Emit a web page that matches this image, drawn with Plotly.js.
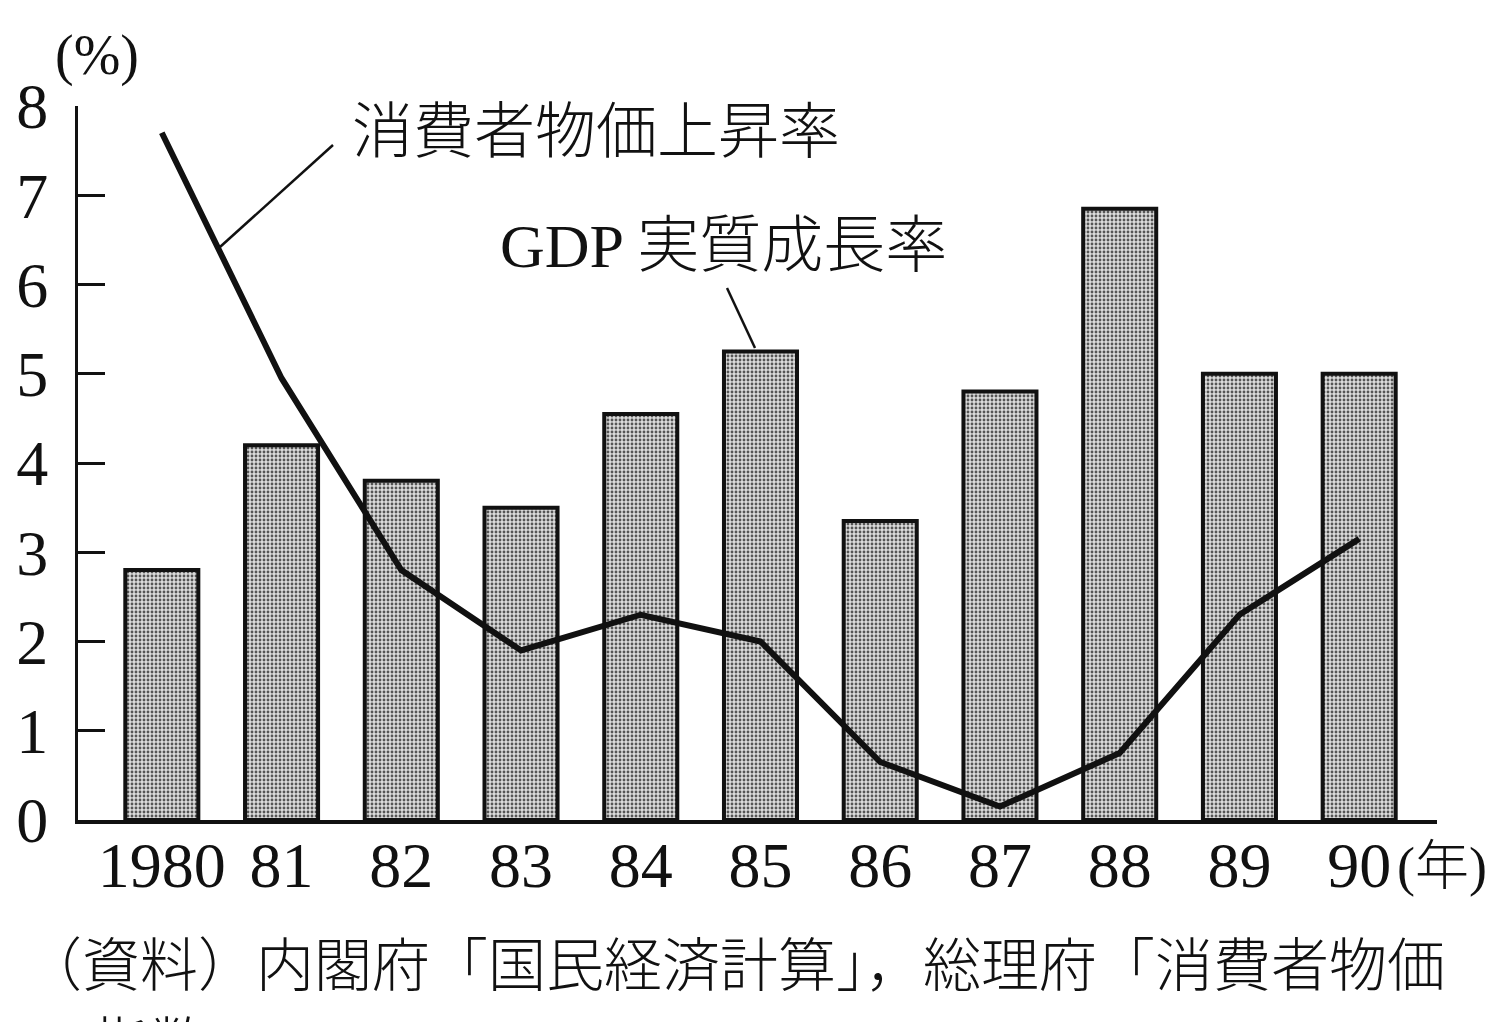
<!DOCTYPE html>
<html>
<head>
<meta charset="utf-8">
<script src="https://cdn.plot.ly/plotly-3.0.1.min.js"></script>
<style>
  html, body { margin: 0; padding: 0; background: #fff; }
  #chart_div { width: 1492px; height: 1022px; }
</style>
</head>
<body>
<div id="chart_div"></div>
<script>
// years on the x axis and their printed labels
var years = [1980, 1981, 1982, 1983, 1984, 1985, 1986, 1987, 1988, 1989, 1990];
var year_labels = ['1980', '81', '82', '83', '84', '85', '86', '87', '88', '89', '90'];

// GDP real growth rate (%), bars
var gdp_growth = [2.8, 4.2, 3.8, 3.5, 4.55, 5.25, 3.35, 4.8, 6.85, 5.0, 5.0];

// consumer price rise (%), line
var cpi_rise = [7.7, 4.95, 2.8, 1.9, 2.3, 2.0, 0.65, 0.15, 0.75, 2.3, 3.15];

var font_family = '"Liberation Serif", "Noto Sans CJK JP", serif';

// plot area in page pixels, used to place the loose texts
var plot_left = 78, plot_right = 1437, plot_top = 106, plot_bottom = 820;

function px_x(px) { return (px - plot_left) / (plot_right - plot_left); }
function px_y(py) { return (plot_bottom - py) / (plot_bottom - plot_top); }

function label(text, px, py, size, anchor) {
	return {
		xref: 'paper', yref: 'paper',
		x: px_x(px), y: px_y(py),
		xanchor: anchor || 'left', yanchor: 'middle',
		text: text, showarrow: false,
		font: { family: font_family, size: size, color: '#111', weight: 300 }
	};
}

function leader(x0, y0, x1, y1) {
	return {
		type: 'line', xref: 'paper', yref: 'paper',
		x0: px_x(x0), y0: px_y(y0), x1: px_x(x1), y1: px_y(y1),
		line: { color: '#111', width: 2.5 }
	};
}

var bars = {
	x: years,
	y: gdp_growth,
	type: 'bar',
	width: 0.61,
	name: 'GDP 実質成長率',
	marker: {
		color: '#d8d8d8',
		line: { color: '#111', width: 4 },
		pattern: { shape: '.', fgcolor: '#555', bgcolor: '#dcdcdc', size: 4, solidity: 0.4 }
	},
	hoverinfo: 'x+y'
};

var cpi_line = {
	x: years,
	y: cpi_rise,
	type: 'scatter',
	mode: 'lines',
	name: '消費者物価上昇率',
	line: { color: '#111', width: 6 },
	hoverinfo: 'x+y'
};

var layout = {
	width: 1492,
	height: 1022,
	margin: { l: plot_left, r: 1492 - plot_right, t: plot_top, b: 1022 - plot_bottom },
	paper_bgcolor: '#fff',
	plot_bgcolor: '#fff',
	showlegend: false,
	font: { family: font_family, color: '#111' },
	xaxis: {
		range: [1979.3, 1990.65],
		tickvals: years,
		ticktext: year_labels,
		ticks: '',
		showgrid: false,
		zeroline: false,
		showline: true,
		linecolor: '#111',
		linewidth: 4,
		ticklabelstandoff: -14,
		tickfont: { family: font_family, size: 64, color: '#111' }
	},
	yaxis: {
		range: [0, 8],
		dtick: 1,
		ticks: 'inside',
		ticklen: 27,
		tickwidth: 3,
		tickcolor: '#111',
		showgrid: false,
		zeroline: false,
		showline: true,
		linecolor: '#111',
		linewidth: 3,
		ticklabelstandoff: 14,
		tickfont: { family: font_family, size: 64, color: '#111' }
	},
	annotations: [
		label('(%)', 97, 55, 56, 'center'),
		label('消費者物価上昇率', 350, 133, 61),
		label('GDP 実質成長率', 498, 246, 62),
		label('(年)', 1395, 867, 54),
		label('（資料）内閣府「国民経済計算」，総理府「消費者物価', 22, 966, 58),
		label('指数」', 90, 1045, 58)
	],
	shapes: [
		leader(333, 145, 220, 247),
		leader(727, 288, 755, 348)
	]
};

var remove_from_Modebar = { displayModeBar: false, staticPlot: true };

Plotly.newPlot('chart_div', [bars, cpi_line], layout, remove_from_Modebar);
</script>
</body>
</html>
